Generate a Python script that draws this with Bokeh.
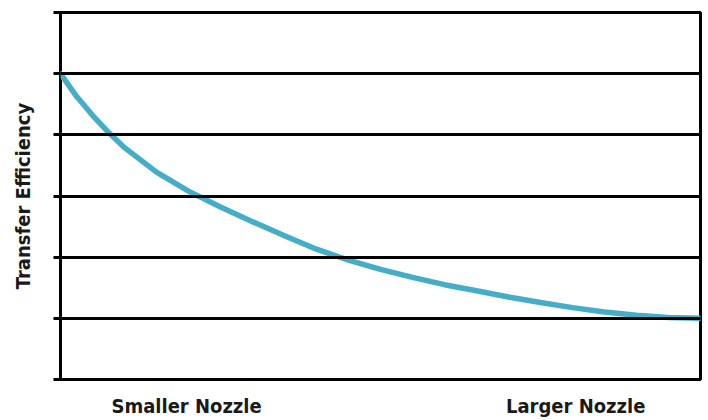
from bokeh.plotting import figure
from bokeh.models import FixedTicker, Range1d
from bokeh.embed import file_html
from bokeh.resources import INLINE

# Curve (x: nozzle size 0..1, y: efficiency in grid units 0..6)
nozzle = [0.0, 0.025, 0.05, 0.075, 0.1, 0.15, 0.2, 0.25, 0.3, 0.35, 0.4, 0.45,
          0.5, 0.55, 0.6, 0.65, 0.7, 0.75, 0.8, 0.85, 0.9, 0.95, 1.0]
efficiency = [5.0, 4.63, 4.32, 4.04, 3.79, 3.39, 3.08, 2.82, 2.58, 2.35, 2.13, 1.95,
              1.80, 1.67, 1.55, 1.45, 1.35, 1.26, 1.175, 1.105, 1.05, 1.015, 1.0]

x_tick_pos = [0.197, 0.805]
x_tick_labels = ["Smaller Nozzle", "Larger Nozzle"]
y_ticks = [0, 1, 2, 3, 4, 5, 6]
y_grid = [1, 2, 3, 4, 5]
y_title = "Transfer Efficiency"

FONT = "'DejaVu Sans Condensed', 'Liberation Sans Narrow', sans-serif"

p = figure(width=704, height=420, output_backend="svg", toolbar_location=None,
           x_range=Range1d(0, 1), y_range=Range1d(0, 6),
           min_border_left=60, min_border_right=4, min_border_top=12, min_border_bottom=40)

p.line(nozzle, efficiency, line_color="#45adc8", line_width=5.5,
       line_cap="round", line_join="round")

p.outline_line_color = "black"
p.outline_line_width = 3
p.outline_line_alpha = 1.0

p.xgrid.visible = False
p.ygrid.ticker = FixedTicker(ticks=y_grid)
p.ygrid.grid_line_color = "black"
p.ygrid.grid_line_width = 3
p.ygrid.grid_line_alpha = 1.0
p.ygrid.level = "annotation"

# x axis: two captions
xa = p.xaxis[0]
xa.ticker = FixedTicker(ticks=x_tick_pos)
xa.major_label_overrides = {x_tick_pos[i]: x_tick_labels[i] for i in range(2)}
xa.major_tick_out = 0
xa.major_tick_in = 0
xa.minor_tick_out = 0
xa.minor_tick_in = 0
xa.axis_line_color = None
xa.major_label_standoff = 14
xa.major_label_text_font = FONT
xa.major_label_text_font_style = "bold"
xa.major_label_text_font_size = "20px"
xa.major_label_text_color = "#1a1a1a"

# y axis: ticks only, plus title
ya = p.yaxis[0]
ya.ticker = FixedTicker(ticks=y_ticks)
ya.major_label_overrides = {t: "" for t in y_ticks}
ya.major_label_text_font_size = "1px"
ya.major_tick_out = 7
ya.major_tick_in = 0
ya.minor_tick_out = 0
ya.minor_tick_in = 0
ya.major_tick_line_width = 3
ya.major_tick_line_color = "black"
ya.axis_line_color = None
ya.axis_label = y_title
ya.axis_label_text_font = FONT
ya.axis_label_text_font_style = "bold"
ya.axis_label_text_font_size = "20px"
ya.axis_label_text_color = "#1a1a1a"
ya.axis_label_standoff = 19
ya.major_label_standoff = 2

open("out.html", "w").write(file_html(p, INLINE))
